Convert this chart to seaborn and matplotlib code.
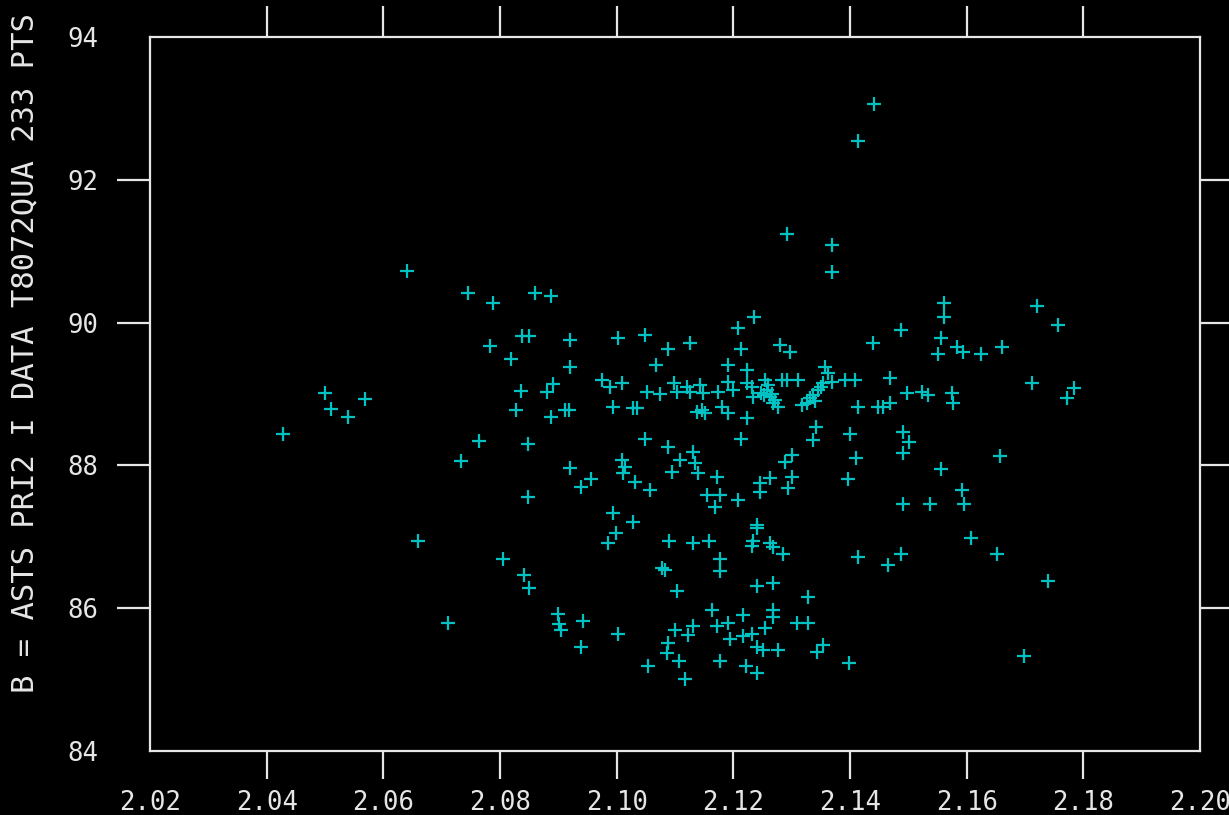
import matplotlib
matplotlib.use("Agg")
import matplotlib.pyplot as plt
import seaborn as sns
import pandas as pd

x_vals = [
    2.0428, 2.0500, 2.0510, 2.0540, 2.0569, 2.0640, 2.0660, 2.0710, 2.0733, 2.0745,
    2.0764, 2.0783, 2.0788, 2.0805, 2.0819, 2.0827, 2.0836, 2.0838, 2.0850, 2.0841,
    2.0850, 2.0848, 2.0848, 2.0860, 2.0887, 2.0880, 2.0891, 2.0887, 2.0899, 2.0901,
    2.0905, 2.0911, 2.0918, 2.0920, 2.0920, 2.0920, 2.0939, 2.0942, 2.0939, 2.0956,
    2.1002, 2.1049, 2.1088, 2.1126, 2.1208, 2.1235, 2.1213, 2.1067, 2.1191, 2.1223,
    2.1280, 2.1297, 2.1439, 2.0975, 2.0989, 2.1009, 2.1052, 2.1074, 2.1098, 2.1103,
    2.1126, 2.1143, 2.1148, 2.1174, 2.1191, 2.1200, 2.1223, 2.1232, 2.1234, 2.1254,
    2.1257, 2.1263, 2.1268, 2.1277, 2.1283, 2.1292, 2.1311, 2.1318, 2.1327, 2.1332,
    2.1337, 2.1345, 2.1354, 2.1357, 2.1363, 2.1369, 2.1391, 2.1409, 2.0994, 2.1028,
    2.1035, 2.1138, 2.1146, 2.1151, 2.1181, 2.1191, 2.1223, 2.1414, 2.1448, 2.1049,
    2.1088, 2.1109, 2.1131, 2.1134, 2.1139, 2.1095, 2.1213, 2.1342, 2.1337, 2.1400,
    2.1411, 2.1397, 2.1009, 2.1014, 2.1011, 2.1032, 2.1057, 2.1172, 2.1155, 2.1177,
    2.1169, 2.1208, 2.1246, 2.1263, 2.1246, 2.1289, 2.1300, 2.1300, 2.1294, 2.0994,
    2.1028, 2.1241, 2.0999, 2.0985, 2.1002, 2.1054, 2.1078, 2.1083, 2.1103, 2.1090,
    2.1131, 2.1158, 2.1177, 2.1177, 2.1241, 2.1234, 2.1232, 2.1263, 2.1268, 2.1285,
    2.1241, 2.1268, 2.1328, 2.1163, 2.1217, 2.1268, 2.1268, 2.1172, 2.1191, 2.1254,
    2.1194, 2.1217, 2.1232, 2.1241, 2.1251, 2.1277, 2.1309, 2.1328, 2.1343, 2.1354,
    2.1100, 2.1131, 2.1122, 2.1088, 2.1086, 2.1107, 2.1117, 2.1177, 2.1222, 2.1241,
    2.1398, 2.1441, 2.1414, 2.1369, 2.1369, 2.1292, 2.1561, 2.1561, 2.1721, 2.1757,
    2.1487, 2.1556, 2.1551, 2.1583, 2.1594, 2.1625, 2.1661, 2.1469, 2.1498, 2.1523,
    2.1534, 2.1575, 2.1712, 2.1784, 2.1772, 2.1457, 2.1469, 2.1577, 2.1491, 2.1501,
    2.1491, 2.1657, 2.1556, 2.1592, 2.1595, 2.1491, 2.1537, 2.1608, 2.1414, 2.1465,
    2.1487, 2.1652, 2.1739, 2.1698, 2.1248, 2.1260, 2.1272, 2.1350, 2.1340, 2.1121,
    2.1252, 2.1266,
]

y_vals = [
    88.44, 89.01, 88.79, 88.68, 88.93, 90.72, 86.94, 85.79, 88.06, 90.41,
    88.34, 89.67, 90.27, 86.69, 89.49, 88.78, 89.04, 89.81, 89.81, 86.46,
    86.28, 88.30, 87.56, 90.41, 90.37, 89.03, 89.14, 88.68, 85.92, 85.78,
    85.69, 88.78, 88.78, 89.76, 89.38, 87.96, 87.70, 85.82, 85.46, 87.81,
    89.78, 89.83, 89.63, 89.71, 89.92, 90.08, 89.63, 89.41, 89.41, 89.34,
    89.69, 89.59, 89.71, 89.20, 89.10, 89.15, 89.03, 89.00, 89.15, 89.03,
    89.03, 89.13, 89.01, 89.03, 89.17, 89.06, 89.15, 89.10, 88.96, 89.20,
    89.06, 88.96, 88.87, 88.82, 89.20, 89.20, 89.20, 88.85, 88.87, 88.94,
    88.99, 89.06, 89.15, 89.38, 89.29, 89.17, 89.20, 89.20, 88.82, 88.80,
    88.80, 88.75, 88.78, 88.73, 88.82, 88.73, 88.66, 88.82, 88.82, 88.37,
    88.26, 88.08, 88.19, 88.03, 87.89, 87.91, 88.37, 88.54, 88.36, 88.44,
    88.10, 87.81, 88.08, 87.98, 87.89, 87.77, 87.66, 87.84, 87.59, 87.59,
    87.42, 87.52, 87.75, 87.82, 87.63, 88.05, 88.15, 87.84, 87.68, 87.33,
    87.21, 87.17, 87.05, 86.91, 85.64, 85.19, 86.56, 86.53, 86.24, 86.94,
    86.91, 86.94, 86.69, 86.52, 87.12, 86.94, 86.87, 86.91, 86.86, 86.76,
    86.31, 86.35, 86.16, 85.98, 85.91, 85.98, 85.88, 85.75, 85.79, 85.72,
    85.57, 85.61, 85.64, 85.46, 85.41, 85.41, 85.79, 85.79, 85.39, 85.49,
    85.69, 85.75, 85.62, 85.51, 85.37, 85.26, 85.01, 85.26, 85.19, 85.09,
    85.23, 93.06, 92.54, 91.09, 90.71, 91.24, 90.27, 90.08, 90.23, 89.97,
    89.90, 89.78, 89.56, 89.66, 89.59, 89.56, 89.66, 89.22, 89.01, 89.03,
    88.99, 89.01, 89.15, 89.08, 88.94, 88.82, 88.87, 88.87, 88.47, 88.33,
    88.17, 88.13, 87.95, 87.66, 87.46, 87.46, 87.46, 86.98, 86.72, 86.61,
    86.76, 86.76, 86.38, 85.33, 89.02, 89.12, 88.92, 89.10, 88.90, 89.10,
    88.98, 89.00,
]

x_ticks = [2.02, 2.04, 2.06, 2.08, 2.10, 2.12, 2.14, 2.16, 2.18, 2.20]
x_tick_labels = ["2.02", "2.04", "2.06", "2.08", "2.10", "2.12", "2.14", "2.16", "2.18", "2.20"]
y_ticks = [84, 86, 88, 90, 92, 94]
y_tick_labels = ["84", "86", "88", "90", "92", "94"]
y_label = "B = ASTS PRI2 I DATA T8072QUA 233 PTS"

df = pd.DataFrame({"x": x_vals, "y": y_vals})

sns.set_style("dark")
plt.rcParams["font.family"] = ["DejaVu Sans Mono", "DejaVu Sans"]

fg = "#e6e6e6"
cyan = "#00c2c2"

fig = plt.figure(figsize=(12.29, 8.15), dpi=100, facecolor="black")
ax = fig.add_axes([150 / 1229, 64 / 815, 1050 / 1229, 714 / 815])
ax.set_facecolor("black")

sns.scatterplot(data=df, x="x", y="y", ax=ax, marker="+", color=cyan,
                s=90, linewidth=1.6, legend=False)

ax.set_xlim(2.02, 2.20)
ax.set_ylim(84, 94)
ax.grid(False)

for sp in ax.spines.values():
    sp.set_color(fg)
    sp.set_linewidth(1.6)

ax.set_xticks(x_ticks)
ax.set_xticklabels(x_tick_labels)
ax.set_yticks(y_ticks)
ax.set_yticklabels(y_tick_labels)

ax.tick_params(axis="x", which="major", direction="out", length=20, width=1.6,
               color=fg, labelcolor=fg, labelsize=18.5, pad=8,
               top=True, bottom=True)
ax.tick_params(axis="y", which="major", direction="out", length=24, width=1.6,
               color=fg, labelcolor=fg, labelsize=18.5, pad=13,
               left=True, right=True)

# top / right tick lengths
for t in ax.xaxis.get_major_ticks():
    t.tick2line.set_markersize(22)
for t in ax.yaxis.get_major_ticks():
    t.tick2line.set_markersize(22)

# no tick marks at the corners
xt = ax.xaxis.get_major_ticks()
yt = ax.yaxis.get_major_ticks()
for t in (xt[0], xt[-1]):
    t.tick1line.set_visible(False)
    t.tick2line.set_visible(False)
for t in (yt[0], yt[-1]):
    t.tick1line.set_visible(False)
    t.tick2line.set_visible(False)

ax.set_xlabel("")
ax.set_ylabel(y_label, color=fg, fontsize=22)
ax.yaxis.set_label_coords(-0.105, 0.557)

fig.savefig("out.png", dpi=100, facecolor="black")
